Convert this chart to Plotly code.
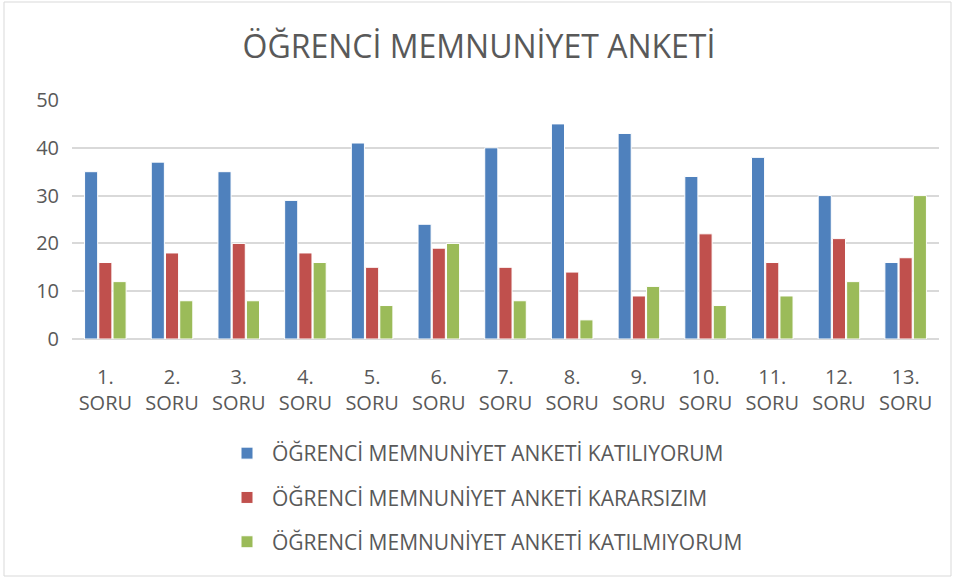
import plotly.graph_objects as go

categories = [f"{i}.<br>SORU" for i in range(1, 14)]
katiliyorum = [35, 37, 35, 29, 41, 24, 40, 45, 43, 34, 38, 30, 16]
kararsizim = [16, 18, 20, 18, 15, 19, 15, 14, 9, 22, 16, 21, 17]
katilmiyorum = [12, 8, 8, 16, 7, 20, 8, 4, 11, 7, 9, 12, 30]
series_names = [
    "ÖĞRENCİ MEMNUNİYET ANKETİ KATILIYORUM",
    "ÖĞRENCİ MEMNUNİYET ANKETİ KARARSIZIM",
    "ÖĞRENCİ MEMNUNİYET ANKETİ KATILMIYORUM",
]
colors = ["#4F81BD", "#C0504D", "#9BBB59"]

FONT = "Open Sans"
TXT = "#595959"

fig = go.Figure()
for name, vals, col in zip(series_names, [katiliyorum, kararsizim, katilmiyorum], colors):
    fig.add_trace(go.Bar(
        x=categories, y=vals, name=name, legendgroup=name,
        marker=dict(color=col, line=dict(color="white", width=1)),
    ))

L, R, T, B = 72, 19, 100, 240
W, H = 958, 579
pw, ph = W - L - R, H - T - B

fig.update_layout(
    width=W, height=H,
    margin=dict(l=L, r=R, t=T, b=B),
    paper_bgcolor="white", plot_bgcolor="white",
    barmode="group", bargap=0.36, bargroupgap=0.08,
    title=dict(text="ÖĞRENCİ MEMNUNİYET ANKETİ", x=0.5, xanchor="center",
               y=1 - 47 / H, yanchor="middle",
               font=dict(family=FONT, size=32, color=TXT)),
    font=dict(family=FONT, color=TXT, size=20),
    xaxis=dict(showgrid=False, showline=False, ticks="", tickfont=dict(size=20, color=TXT),
               ticklabelstandoff=24),
    yaxis=dict(range=[0, 50], dtick=10, showgrid=True, gridcolor="#D9D9D9", gridwidth=1.5,
               zeroline=True, zerolinecolor="#D9D9D9", zerolinewidth=1.5,
               ticks="", tickfont=dict(size=20, color=TXT), ticklabelstandoff=12),
    legend=dict(orientation="v", x=(222 - L) / pw, xanchor="left",
                y=(339 - 433) / ph, yanchor="top",
                font=dict(size=21, color=TXT), tracegroupgap=14,
                traceorder="grouped", itemwidth=40),
    showlegend=True,
    shapes=[dict(type="rect", xref="paper", yref="paper",
                 x0=(4 - L) / pw, x1=(951 - L) / pw,
                 y0=(339 - 576) / ph, y1=(339 - 2) / ph,
                 line=dict(color="#D9D9D9", width=1), fillcolor="rgba(0,0,0,0)", layer="below")],
)

fig.write_html("out.html", config={"displayModeBar": False},
               post_script="document.body.style.margin='0';")
